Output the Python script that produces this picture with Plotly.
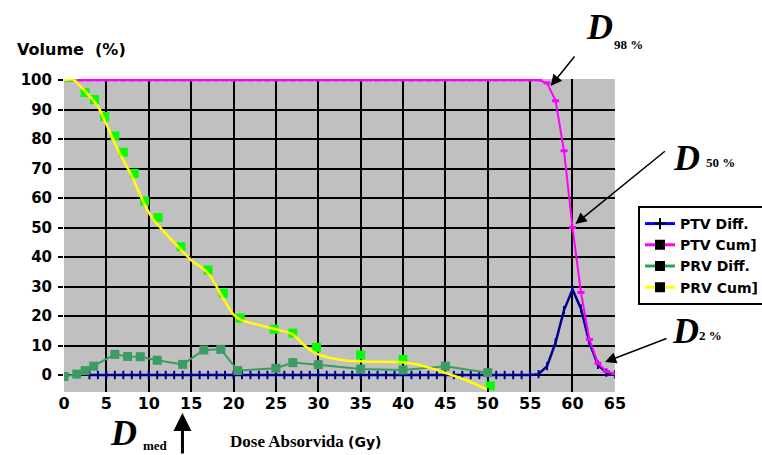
import plotly.graph_objects as go

# ---------------- data ----------------
dose_grid = list(range(0, 66))
ptv_cum = [100, 100, 100, 100, 100, 100, 100, 100, 100, 100,
           100, 100, 100, 100, 100, 100, 100, 100, 100, 100,
           100, 100, 100, 100, 100, 100, 100, 100, 100, 100,
           100, 100, 100, 100, 100, 100, 100, 100, 100, 100,
           100, 100, 100, 100, 100, 100, 100, 100, 100, 100,
           100, 100, 100, 100, 100, 100, 100, 99, 93, 76,
           50, 28, 12, 4, 1.2, 0.4]

ptv_diff_dose = list(range(3, 66))
ptv_diff = [0, 0, 0, 0, 0, 0, 0, 0, 0, 0,
            0, 0, 0, 0, 0, 0, 0, 0, 0, 0,
            0, 0, 0, 0, 0, 0, 0, 0, 0, 0,
            0, 0, 0, 0, 0, 0, 0, 0, 0, 0,
            0, 0, 0, 0, 0, 0, 0, 0, 0, 0,
            0, 0, 0, 0.3, 3, 11, 22, 29, 22.5, 11,
            3.5, 0.8, 0.2]

prv_diff_dose = [0, 1.5, 2.5, 3.5, 6, 7.5, 9, 11, 14, 16.5, 18.5, 20.5, 25, 27, 30, 35, 40, 45, 50]
prv_diff = [-0.5, 0.3, 1.5, 3, 7, 6.3, 6.2, 5, 3.6, 8.5, 8.7, 1.5, 2.3, 4.2, 3.5, 2, 1.7, 3, 0.8]

prv_cum_dose = [0, 1, 2, 4, 5.3, 6.6, 8, 9, 10.3, 12.7, 15, 17, 18.9, 20, 21, 23, 25, 27,
                28.3, 30, 33, 36, 40, 42.7, 44.6, 47.4, 50]
prv_cum = [100, 100.2, 97.7, 91, 83, 75, 67.5, 61, 53.7, 45.8, 39, 34.5, 25.4, 20.5, 18.5,
           17, 15.5, 13.8, 10.2, 7, 5, 4.5, 4.3, 2.8, 1.1, -1.7, -5]

prv_pts_dose = [0, 1, 2.5, 3.6, 4.8, 6, 7, 8.3, 9.5, 11.1, 13.8, 17, 18.8, 20.8, 24.8, 27,
                29.8, 35, 40, 50.3]
prv_pts = [101, 101, 95.8, 93.4, 87.6, 81, 75.5, 68.3, 59, 53.4, 43.5, 35.6, 27.7, 19.3,
           15.5, 14.2, 9.4, 6.8, 5.3, -3.7]

legend_names = ["PTV Diff.", "PTV Cum]", "PRV Diff.", "PRV Cum]"]
x_ticks = [0, 5, 10, 15, 20, 25, 30, 35, 40, 45, 50, 55, 60, 65]
y_ticks = [0, 10, 20, 30, 40, 50, 60, 70, 80, 90, 100]

# ---------------- figure ----------------
BLUE = "#00008b"
MAG = "#ff00ff"
GREEN = "#3a9c62"
BRIGHT = "#00ff00"
YEL = "#ffff00"

fig = go.Figure()

fig.add_trace(go.Scatter(x=ptv_diff_dose, y=ptv_diff, mode="lines+markers",
                         line=dict(color=BLUE, width=2.5),
                         marker=dict(symbol="line-ns-open", size=6,
                                     line=dict(color="#000050", width=2)),
                         showlegend=False))
fig.add_trace(go.Scatter(x=dose_grid, y=ptv_cum, mode="lines+markers",
                         line=dict(color=MAG, width=2),
                         marker=dict(symbol="line-ew-open", size=5,
                                     line=dict(color=MAG, width=3)),
                         showlegend=False))
fig.add_trace(go.Scatter(x=prv_diff_dose, y=prv_diff, mode="lines+markers",
                         line=dict(color=GREEN, width=2),
                         marker=dict(symbol="square", size=9, color=GREEN),
                         showlegend=False))
fig.add_trace(go.Scatter(x=prv_pts_dose, y=prv_pts, mode="markers",
                         marker=dict(symbol="square", size=9, color=BRIGHT),
                         showlegend=False))
fig.add_trace(go.Scatter(x=prv_cum_dose, y=prv_cum, mode="lines",
                         line=dict(color=YEL, width=2.5, shape="spline", smoothing=0.8),
                         showlegend=False))

# legend-only entries
leg_colors = ["#0000ff", MAG, "#22aa55", YEL]
leg_symbols = ["cross-thin-open", "square", "square", "square"]
for name, c, s in zip(legend_names, leg_colors, leg_symbols):
    fig.add_trace(go.Scatter(x=[None], y=[None], mode="lines+markers", name=name,
                             line=dict(color=c, width=3),
                             marker=dict(symbol=s, size=8, color="black",
                                         line=dict(color="black", width=2))))

# ---------------- layout ----------------
L, T, W, H = 64, 79, 558, 313


def px(x):
    return (x - L) / W


def py(y):
    return 1 - (y - T) / H


tick_font = dict(family="DejaVu Sans", size=15, color="black", weight="bold")

fig.update_layout(
    width=762, height=455, autosize=False,
    margin=dict(l=L, r=762 - L - W, t=T, b=455 - T - H, pad=0),
    paper_bgcolor="white", plot_bgcolor="#c0c0c0",
    xaxis=dict(range=[0, 65], tickvals=x_ticks, showgrid=True, gridcolor="black",
               gridwidth=2, zeroline=False, showline=False, ticks="inside",
               ticklen=4, tickwidth=2, tickcolor="black",
               tickfont=dict(family="DejaVu Sans", size=16, color="black", weight="bold")),
    yaxis=dict(range=[-5.76, 100.34], tickvals=y_ticks, showgrid=True, gridcolor="black",
               gridwidth=2, zeroline=False, showline=False, ticks="outside",
               ticklen=5, tickwidth=2, tickcolor="black", ticklabelstandoff=3,
               tickfont=tick_font),
    legend=dict(xref="container", yref="container", x=638 / 762, y=1 - 206 / 455,
                xanchor="left", yanchor="top", bgcolor="white", bordercolor="black",
                borderwidth=2, font=dict(family="DejaVu Sans", size=14, color="black",
                                          weight="bold"),
                itemwidth=30, tracegroupgap=0),
)

ann = []
ann.append(dict(x=px(72), y=py(49), xref="paper", yref="paper", text="Volume  (%)",
                showarrow=False, xanchor="center", yanchor="middle",
                font=dict(family="DejaVu Sans", size=16, color="black", weight="bold")))

DFONT = dict(family="Liberation Serif", size=36, color="black", weight="bold", style="italic")
SFONT = dict(family="Liberation Serif", size=13, color="black", weight="bold")

for (dx, dy, sx, sy, sub) in [(606, 27, 636, 45, "98 %"),
                              (695, 158, 729, 162, "50 %"),
                              (694, 331, 719, 335, "2 %"),
                              (124, 433, 157, 445, "med")]:
    ann.append(dict(x=px(dx), y=py(dy), xref="paper", yref="paper", text="D",
                    showarrow=False, xanchor="center", yanchor="middle", font=DFONT))
    ann.append(dict(x=px(sx), y=py(sy), xref="paper", yref="paper", text=sub,
                    showarrow=False, xanchor="center", yanchor="middle", font=SFONT))

for (hx, hy, tx, ty, w, sz) in [(557, 86, 582, 55, 1.5, 1.5),
                                (582, 224, 673, 150, 1.5, 1.5),
                                (612, 362, 675, 338, 1.5, 1.5),
                                (184, 413, 184, 455, 3, 1.2)]:
    ann.append(dict(x=px(hx), y=py(hy), xref="paper", yref="paper", text="",
                    showarrow=True, ax=tx - hx, ay=ty - hy, axref="pixel", ayref="pixel",
                    arrowhead=2, arrowsize=sz, arrowwidth=w, arrowcolor="black", standoff=0))

ann.append(dict(x=px(230), y=py(441), xref="paper", yref="paper",
                text="Dose Absorvida <span style='font-family:DejaVu Sans;font-size:14px'>(Gy)</span>",
                showarrow=False, xanchor="left", yanchor="middle",
                font=dict(family="Liberation Serif", size=17, color="black", weight="bold")))

fig.update_layout(annotations=ann)

fig.write_html("out.html")
